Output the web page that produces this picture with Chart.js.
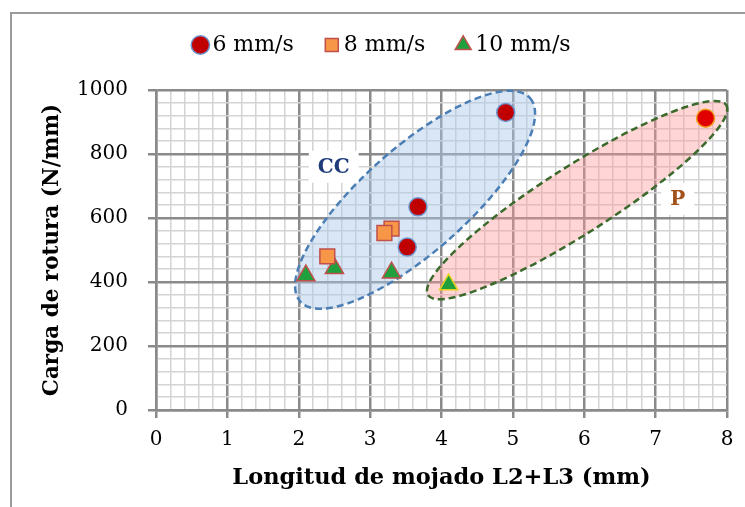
<!DOCTYPE html>
<html>
<head>
<meta charset="utf-8">
<script src="https://cdn.jsdelivr.net/npm/chart.js@4"></script>
<style>
  html, body { margin: 0; padding: 0; background: #fff; }
  #wrap { width: 745px; height: 507px; position: relative; }
</style>
</head>
<body>
<div id="wrap"><canvas id="chart"></canvas></div>
<script>
// values
const speedLabels = ['6 mm/s', '8 mm/s', '10 mm/s'];
const x6 = [4.9, 3.67, 3.52, 7.7];
const y6 = [930, 635, 509, 912];
const x8 = [3.3, 3.2, 2.4];
const y8 = [567, 553, 480];
const x10 = [2.1, 2.5, 3.3, 4.1];
const y10 = [420, 443, 429, 392];

const xTickLabels = [0, 1, 2, 3, 4, 5, 6, 7, 8];
const yTickLabels = [0, 200, 400, 600, 800, 1000];

// the two group ellipses (centre, tip of long axis, short/long ratio)
const groupNames = ['CC', 'P'];
const groupCentreX = [3.63, 5.9];
const groupCentreY = [657, 656];
const groupEndX = [5.24, 7.99];
const groupEndY = [975, 953];
const groupRatio = [0.34, 0.19];
const groupLabelX = [2.49, 7.31];
const groupLabelY = [760, 660];

function toPoints(xs, ys) {
    return xs.map((x, i) => ({ x: x, y: ys[i] }));
}

function isMajor(v, step) {
    const r = v / step;
    return Math.abs(r - Math.round(r)) < 1e-6;
}

const SERIF = '"DejaVu Serif", "Liberation Serif", serif';

const groupStyle = [
    { fill: 'rgba(170,200,235,0.45)', line: '#4a7eb4', text: '#1f3c78' },
    { fill: 'rgba(255,150,150,0.40)', line: '#3b6a2c', text: '#a3521c' }
];

// frame line round the picture
const framePlugin = {
    id: 'frame',
    beforeInit(chart) {
        // extra room under the legend
        const fit = chart.legend.fit;
        chart.legend.fit = function () {
            fit.call(this);
            this.height += 24;
        };
    },
    beforeDraw(chart) {
        const ctx = chart.ctx;
        ctx.save();
        ctx.strokeStyle = '#9a9a9a';
        ctx.lineWidth = 2;
        ctx.beginPath();
        ctx.moveTo(11, 507);
        ctx.lineTo(11, 13);
        ctx.lineTo(745, 13);
        ctx.stroke();
        ctx.restore();
    }
};

// ellipses behind the points, labels on top
const groupPlugin = {
    id: 'groups',
    beforeDatasetsDraw(chart) {
        const ctx = chart.ctx;
        const xs = chart.scales.x, ys = chart.scales.y;
        groupNames.forEach((name, i) => {
            const cx = xs.getPixelForValue(groupCentreX[i]);
            const cy = ys.getPixelForValue(groupCentreY[i]);
            const ex = xs.getPixelForValue(groupEndX[i]);
            const ey = ys.getPixelForValue(groupEndY[i]);
            const a = Math.hypot(ex - cx, ey - cy);
            const b = a * groupRatio[i];
            const ang = Math.atan2(ey - cy, ex - cx);
            ctx.save();
            ctx.beginPath();
            ctx.ellipse(cx, cy, a, b, ang, 0, Math.PI * 2);
            ctx.fillStyle = groupStyle[i].fill;
            ctx.fill();
            ctx.setLineDash([7, 4]);
            ctx.lineWidth = 2.5;
            ctx.strokeStyle = groupStyle[i].line;
            ctx.stroke();
            ctx.restore();
        });
    },
    afterDatasetsDraw(chart) {
        const ctx = chart.ctx;
        const xs = chart.scales.x, ys = chart.scales.y;
        groupNames.forEach((name, i) => {
            const px = xs.getPixelForValue(groupLabelX[i]);
            const py = ys.getPixelForValue(groupLabelY[i]);
            ctx.save();
            ctx.font = 'bold 20px ' + SERIF;
            const w = ctx.measureText(name).width;
            ctx.fillStyle = '#fff';
            ctx.fillRect(px - w / 2 - 9, py - 16, w + 18, 32);
            ctx.fillStyle = groupStyle[i].text;
            ctx.textAlign = 'center';
            ctx.textBaseline = 'middle';
            ctx.fillText(name, px, py + 1);
            ctx.restore();
        });
    }
};

const ctx = document.getElementById('chart').getContext('2d');
new Chart(ctx, {
    type: 'scatter',
    data: {
        datasets: [
            {
                label: speedLabels[0],
                data: toPoints(x6, y6),
                pointStyle: 'circle',
                pointRadius: 9,
                pointHoverRadius: 9,
                backgroundColor: ['#c00000', '#c00000', '#c00000', '#e00000'],
                borderColor: ['#6f95cf', '#6f95cf', '#6f95cf', '#f0a020'],
                borderWidth: 1.5
            },
            {
                label: speedLabels[1],
                data: toPoints(x8, y8),
                pointStyle: 'rect',
                pointRadius: 10.5,
                pointHoverRadius: 10.5,
                backgroundColor: '#f79646',
                borderColor: '#c0504d',
                borderWidth: 1.5
            },
            {
                label: speedLabels[2],
                data: toPoints(x10, y10),
                pointStyle: 'triangle',
                pointRadius: 10.5,
                pointHoverRadius: 10.5,
                backgroundColor: '#1fa03c',
                borderColor: ['#c0504d', '#c0504d', '#c0504d', '#e8d020'],
                borderWidth: 1.5
            }
        ]
    },
    options: {
        responsive: true,
        maintainAspectRatio: false,
        animation: false,
        layout: { padding: { top: -3, right: 18, left: 43, bottom: 0 } },
        plugins: {
            legend: {
                position: 'top',
                labels: {
                    usePointStyle: true,
                    boxWidth: 2,
                    boxHeight: 13,
                    padding: 37,
                    color: '#000',
                    font: { family: SERIF, size: 22 }
                }
            },
            tooltip: { enabled: false }
        },
        scales: {
            x: {
                type: 'linear',
                min: 0,
                max: 8,
                afterFit(scale) { scale.height = 97; },
                ticks: {
                    stepSize: 0.2,
                    autoSkip: false,
                    maxRotation: 0,
                    padding: 10,
                    color: '#000',
                    font: { family: SERIF, size: 20 },
                    callback: v => isMajor(v, 1) && xTickLabels.includes(Math.round(v)) ? String(Math.round(v)) : ''
                },
                grid: {
                    color: c => isMajor(c.tick.value, 1) ? '#8a8a8a' : '#d4d4d4',
                    lineWidth: c => isMajor(c.tick.value, 1) ? 2.5 : 1.5,
                    tickColor: c => isMajor(c.tick.value, 1) ? '#8a8a8a' : 'rgba(0,0,0,0)',
                    tickLength: 8
                },
                border: { color: '#8a8a8a', width: 2.5 },
                title: {
                    display: true,
                    text: 'Longitud de mojado L2+L3 (mm)',
                    color: '#000',
                    font: { family: SERIF, size: 22.5, weight: 'bold' },
                    padding: { top: 0, bottom: 15 }
                }
            },
            y: {
                type: 'linear',
                min: 0,
                max: 1000,
                afterFit(scale) { scale.width = 113; },
                ticks: {
                    stepSize: 40,
                    autoSkip: false,
                    padding: 20,
                    color: '#000',
                    font: { family: SERIF, size: 20 },
                    callback: v => isMajor(v, 200) && yTickLabels.includes(Math.round(v)) ? String(Math.round(v)) : ''
                },
                grid: {
                    color: c => isMajor(c.tick.value, 200) ? '#8a8a8a' : '#d4d4d4',
                    lineWidth: c => isMajor(c.tick.value, 200) ? 2.5 : 1.5,
                    tickColor: c => isMajor(c.tick.value, 200) ? '#8a8a8a' : 'rgba(0,0,0,0)',
                    tickLength: 8
                },
                border: { color: '#8a8a8a', width: 2.5 },
                title: {
                    display: true,
                    text: 'Carga de rotura (N/mm)',
                    color: '#000',
                    font: { family: SERIF, size: 21.5, weight: 'bold' },
                    padding: { top: -3, bottom: 0 }
                }
            }
        }
    },
    plugins: [framePlugin, groupPlugin]
});
</script>
</body>
</html>
